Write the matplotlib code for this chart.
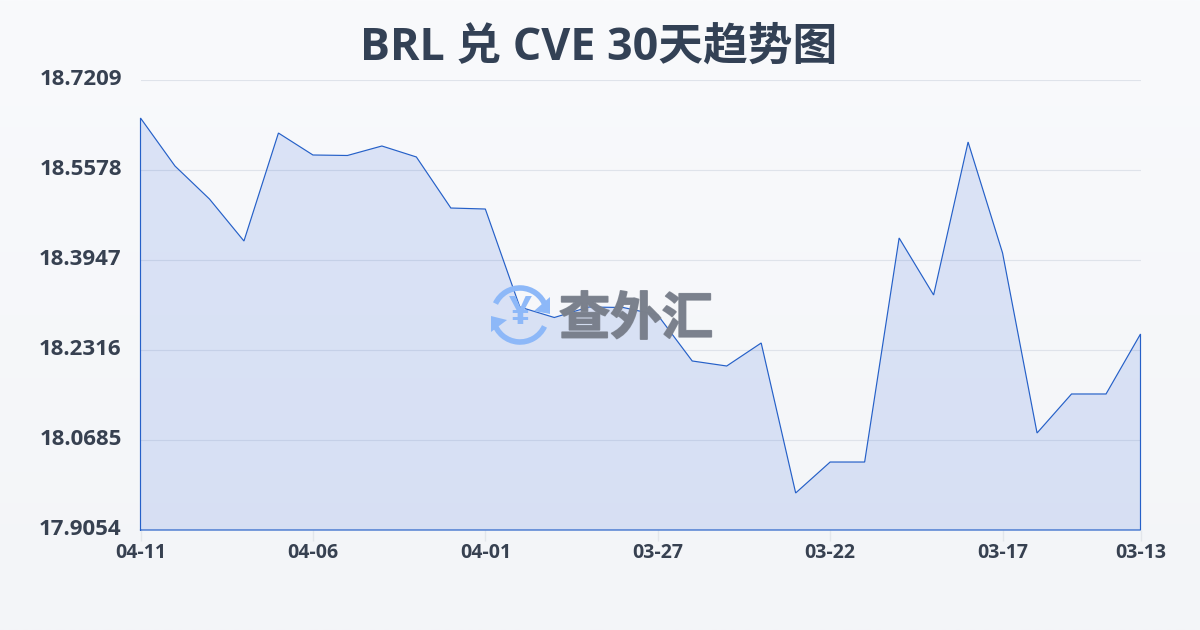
import numpy as np
import matplotlib
matplotlib.use("Agg")
import matplotlib.pyplot as plt
import matplotlib.patheffects as pe
from matplotlib.patches import Arc, Polygon
from matplotlib.transforms import ScaledTranslation

plt.rcParams['font.family'] = ['Open Sans', 'Noto Sans CJK SC', 'DejaVu Sans']

title = "BRL 兑 CVE 30天趋势图"
rates = [18.6520, 18.5650, 18.5052, 18.4291, 18.6248, 18.5850, 18.5841, 18.6013, 18.5814, 18.4889,
         18.4871, 18.3095, 18.2905, 18.3095, 18.3086, 18.2950, 18.2117, 18.2026, 18.2443, 17.9725,
         18.0286, 18.0286, 18.4346, 18.3313, 18.6085, 18.4074, 18.0812, 18.1519, 18.1519, 18.2606]
x_tick_positions = [0, 5, 10, 15, 20, 25, 29]
x_tick_labels = ["04-11", "04-06", "04-01", "03-27", "03-22", "03-17", "03-13"]
y_ticks = [17.9054, 18.0685, 18.2316, 18.3947, 18.5578, 18.7209]
y_tick_labels = ["17.9054", "18.0685", "18.2316", "18.3947", "18.5578", "18.7209"]

W, H = 1200, 630
fig = plt.figure(figsize=(W / 100, H / 100), dpi=100)

# background gradient
bg = fig.add_axes([0, 0, 1, 1], zorder=0)
bg.axis("off")
c_top = np.array([0xf9, 0xfa, 0xfc]) / 255
c_bot = np.array([0xf3, 0xf5, 0xf8]) / 255
t = np.linspace(0, 1, 256)[:, None, None]
bg.imshow(c_top * (1 - t) + c_bot * t, aspect="auto", extent=[0, 1, 0, 1])

ax = fig.add_axes([140.5 / W, 100 / H, 1000 / W, 450 / H], zorder=1)
ax.patch.set_alpha(0)
xs = np.arange(len(rates))
ax.set_xlim(0, len(rates) - 1)
ax.set_ylim(y_ticks[0], y_ticks[-1])
ax.fill_between(xs, rates, y_ticks[0], facecolor="#2a60d8", alpha=0.14, linewidth=0, zorder=2)
line_x = np.r_[xs[0], xs, xs[-1], xs[0]]
line_y = np.r_[y_ticks[0], rates, y_ticks[0], y_ticks[0]]
ax.plot(line_x, line_y, color="#2560c8", lw=0.85, zorder=4, clip_on=False, solid_joinstyle="miter")

ax.set_yticks(y_ticks)
ax.set_yticklabels(y_tick_labels, fontsize=16, fontweight="bold", color="#374151")
ax.set_xticks(x_tick_positions)
ax.set_xticklabels(x_tick_labels, fontsize=14, fontweight="bold", color="#374151")
ax.tick_params(axis="y", length=0, pad=13.5)
ax.tick_params(axis="x", length=8, width=1, color="#e3e6eb", pad=1.5)
for lab in ax.get_yticklabels():
    lab.set_verticalalignment("center")
ax.grid(axis="y", color="#dfe3ea", lw=0.8, zorder=1)
ax.set_axisbelow(True)
for s in ax.spines.values():
    s.set_visible(False)

off = ScaledTranslation(0, 1 / 100, fig.dpi_scale_trans)
for lab in ax.get_yticklabels():
    lab.set_transform(lab.get_transform() + off)

fig.text(599 / W, 1 - 48 / H, title, ha="center", va="center", fontsize=32.2,
         fontweight="bold", color="#334155")

# watermark overlay in pixel coordinates
ov = fig.add_axes([0, 0, 1, 1], zorder=5)
ov.set_xlim(0, W)
ov.set_ylim(H, 0)
ov.axis("off")
ov.patch.set_alpha(0)
blue = "#8db8f8"
cx, cy = 520, 315
ov.add_patch(Arc((cx, cy), 54, 54, theta1=205, theta2=340, color=blue, lw=4, zorder=6))
ov.add_patch(Arc((cx, cy), 54, 54, theta1=25, theta2=165, color=blue, lw=4, zorder=6))
ov.add_patch(Polygon([(491, 316), (507, 320), (491, 332)], closed=True, color=blue, zorder=6, lw=0))
ov.add_patch(Polygon([(550, 297), (550, 314), (534, 311)], closed=True, color=blue, zorder=6, lw=0))
ov.text(cx, cy - 1, "¥", ha="center", va="center", fontsize=29, fontweight="bold", color=blue, zorder=6)
ov.text(636, 319, "查外汇", ha="center", va="center", fontsize=37, fontweight="black",
        family=["Noto Sans CJK SC"], color="#7a808c", alpha=0.9, zorder=6,
        path_effects=[pe.withStroke(linewidth=1.2, foreground="#7a808c")])

fig.savefig("out.png", dpi=100)
